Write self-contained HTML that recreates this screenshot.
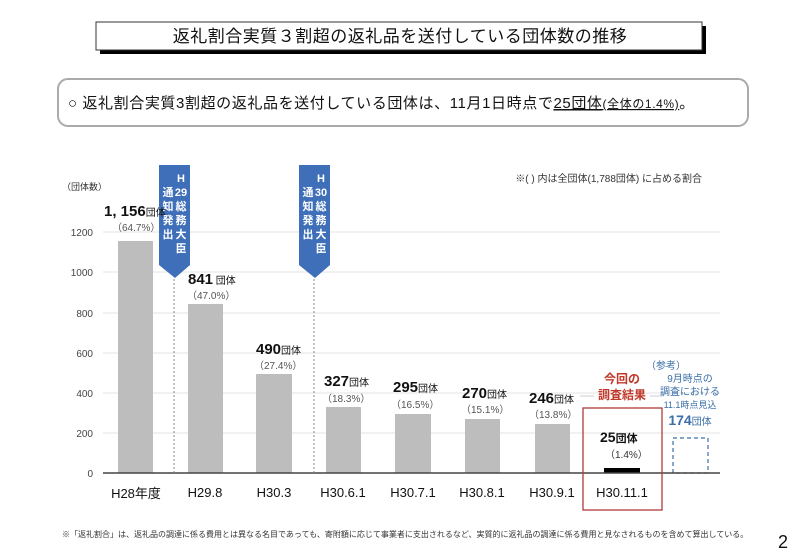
<!DOCTYPE html>
<html><head><meta charset="utf-8"><style>
html,body{margin:0;padding:0;background:#fff;}
svg{display:block;font-family:"Liberation Sans","Noto Sans CJK JP",sans-serif;}
</style></head><body>
<svg width="800" height="560" viewBox="0 0 800 560" xmlns="http://www.w3.org/2000/svg">
<rect width="800" height="560" fill="#fff"/>
<rect x="100" y="26" width="606" height="28" fill="#000"/>
<rect x="96" y="22" width="606" height="28" fill="#fff" stroke="#333" stroke-width="1"/>
<text x="400" y="42" font-size="17" text-anchor="middle" fill="#111" letter-spacing="0.5">返礼割合実質３割超の返礼品を送付している団体数の推移</text>
<rect x="58" y="79" width="690" height="47" rx="10" fill="#fff" stroke="#aaa" stroke-width="2"/>
<text x="68" y="108" font-size="15" fill="#111" letter-spacing="0.6">○  返礼割合実質3割超の返礼品を送付している団体は、11月1日時点で<tspan text-decoration="underline">25団体<tspan font-size="12">(全体の1.4%)</tspan></tspan>。</text>
<g stroke="#e3e3e3" stroke-width="1">
<line x1="103" y1="232" x2="720" y2="232"/><line x1="103" y1="272" x2="720" y2="272"/>
<line x1="103" y1="313" x2="720" y2="313"/><line x1="103" y1="353" x2="720" y2="353"/>
<line x1="103" y1="393" x2="720" y2="393"/><line x1="103" y1="433" x2="720" y2="433"/>
</g>
<g font-size="10" fill="#444" text-anchor="end">
<text x="93" y="236">1200</text><text x="93" y="276">1000</text><text x="93" y="317">800</text>
<text x="93" y="357">600</text><text x="93" y="397">400</text><text x="93" y="437">200</text><text x="93" y="477">0</text>
</g>
<text x="62" y="190" font-size="9" fill="#333">（団体数）</text>
<text x="702" y="182" font-size="10" fill="#333" text-anchor="end">※(  ) 内は全団体(1,788団体) に占める割合</text>
<g fill="#bdbdbd">
<rect x="118" y="241" width="35" height="232"/>
<rect x="188" y="304" width="35" height="169"/>
<rect x="256" y="374" width="36" height="99"/>
<rect x="326" y="407" width="35" height="66"/>
<rect x="395" y="414" width="36" height="59"/>
<rect x="465" y="419" width="35" height="54"/>
<rect x="535" y="424" width="35" height="49"/>
</g>
<rect x="604" y="468" width="36" height="5" fill="#000"/>
<rect x="673" y="438" width="35" height="35" fill="none" stroke="#3a6fa8" stroke-width="1.2" stroke-dasharray="4,3"/>
<line x1="103" y1="473" x2="720" y2="473" stroke="#444" stroke-width="1.5"/>
<rect x="583" y="408" width="79" height="102" fill="none" stroke="#b03a3a" stroke-width="1.3"/>
<path d="M159 165 H190 V265 L175 278 L159 265 Z" fill="#3e6fb8"/>
<path d="M299 165 H330 V265 L315 278 L299 265 Z" fill="#3e6fb8"/>
<line x1="174" y1="279" x2="174" y2="473" stroke="#888" stroke-dasharray="2,2"/>
<line x1="314" y1="279" x2="314" y2="473" stroke="#888" stroke-dasharray="2,2"/>
<g font-size="11" fill="#fff" font-weight="bold" text-anchor="middle">
<text x="181" y="182">H</text><text x="181" y="196">29</text><text x="181" y="210">総</text><text x="181" y="224">務</text><text x="181" y="238">大</text><text x="181" y="252">臣</text>
<text x="168" y="196">通</text><text x="168" y="210">知</text><text x="168" y="224">発</text><text x="168" y="238">出</text>
<text x="321" y="182">H</text><text x="321" y="196">30</text><text x="321" y="210">総</text><text x="321" y="224">務</text><text x="321" y="238">大</text><text x="321" y="252">臣</text>
<text x="308" y="196">通</text><text x="308" y="210">知</text><text x="308" y="224">発</text><text x="308" y="238">出</text>
</g>
<g fill="#111">
<text x="104" y="216" font-size="15" font-weight="bold">1, 156<tspan font-size="10" font-weight="normal">団体</tspan></text>
<text x="112" y="231" font-size="10" fill="#555">（64.7%）</text>
<text x="188" y="284" font-size="15" font-weight="bold">841<tspan font-size="10" font-weight="normal"> 団体</tspan></text>
<text x="187" y="299" font-size="10" fill="#555">（47.0%）</text>
<text x="256" y="354" font-size="15" font-weight="bold">490<tspan font-size="10" font-weight="normal">団体</tspan></text>
<text x="254" y="369" font-size="10" fill="#555">（27.4%）</text>
<text x="324" y="386" font-size="15" font-weight="bold">327<tspan font-size="10" font-weight="normal">団体</tspan></text>
<text x="322" y="402" font-size="10" fill="#555">（18.3%）</text>
<text x="393" y="392" font-size="15" font-weight="bold">295<tspan font-size="10" font-weight="normal">団体</tspan></text>
<text x="391" y="408" font-size="10" fill="#555">（16.5%）</text>
<text x="462" y="398" font-size="15" font-weight="bold">270<tspan font-size="10" font-weight="normal">団体</tspan></text>
<text x="461" y="413" font-size="10" fill="#555">（15.1%）</text>
<text x="529" y="403" font-size="15" font-weight="bold">246<tspan font-size="10" font-weight="normal">団体</tspan></text>
<text x="529" y="418" font-size="10" fill="#555">（13.8%）</text>
<text x="600" y="442" font-size="14" font-weight="bold">25<tspan font-size="11">団体</tspan></text>
<text x="605" y="458" font-size="10" fill="#333">（1.4%）</text>
</g>
<g font-size="12" font-weight="bold" fill="#c0392b" text-anchor="middle">
<text x="622" y="383">今回の</text><text x="622" y="399">調査結果</text>
</g>
<line x1="580" y1="396" x2="594" y2="396" stroke="#ccc"/><line x1="650" y1="396" x2="664" y2="396" stroke="#ccc"/>
<g fill="#3a6fa8" text-anchor="middle">
<text x="666" y="369" font-size="10">（参考）</text>
<text x="690" y="382" font-size="10">9月時点の</text>
<text x="690" y="395" font-size="10">調査における</text>
<text x="690" y="408" font-size="9">11.1時点見込</text>
<text x="690" y="425" font-size="14" font-weight="bold">174<tspan font-size="10" font-weight="normal">団体</tspan></text>
</g>
<g font-size="13" fill="#111" text-anchor="middle">
<text x="136" y="498">H28年度</text><text x="205" y="497">H29.8</text><text x="274" y="497">H30.3</text>
<text x="343" y="497">H30.6.1</text><text x="413" y="497">H30.7.1</text><text x="482" y="497">H30.8.1</text>
<text x="552" y="497">H30.9.1</text><text x="622" y="497">H30.11.1</text>
</g>
<text x="62" y="537" font-size="8" fill="#333">※「返礼割合」は、返礼品の調達に係る費用とは異なる名目であっても、寄附額に応じて事業者に支出されるなど、実質的に返礼品の調達に係る費用と見なされるものを含めて算出している。</text>
<text x="788" y="548" font-size="18" fill="#111" text-anchor="end">2</text>
</svg>
</body></html>
